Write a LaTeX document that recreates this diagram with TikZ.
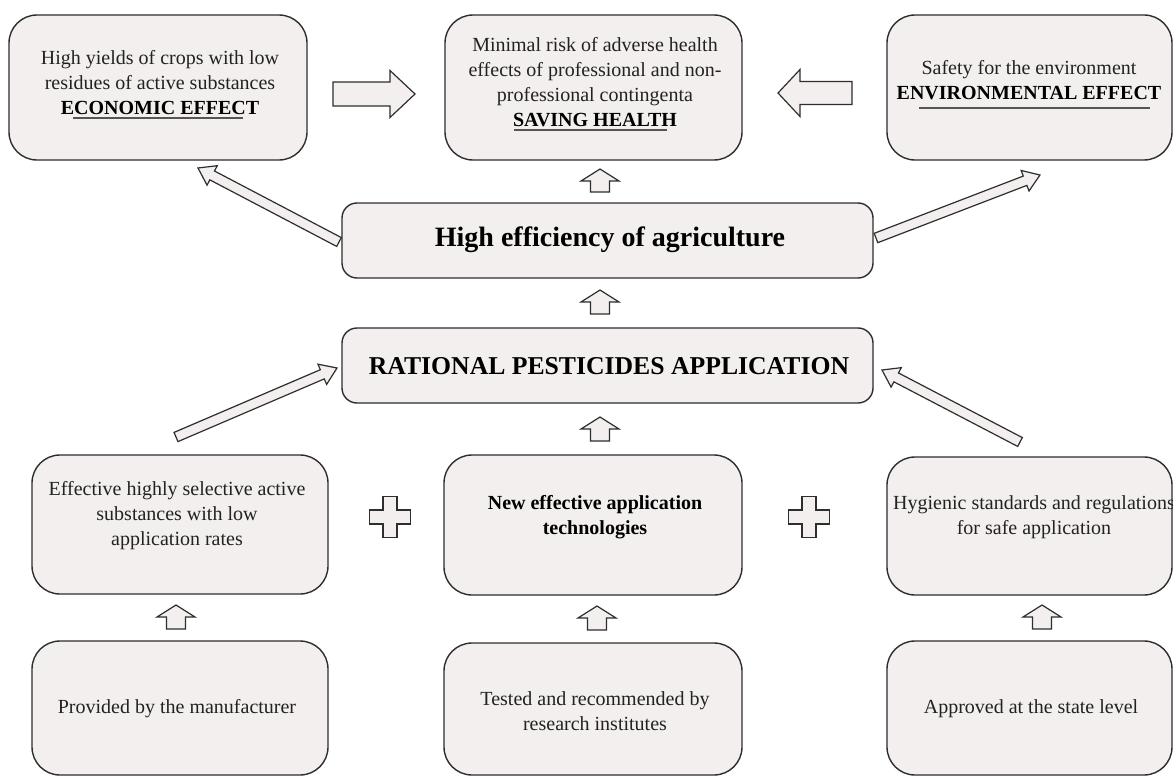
\documentclass[tikz,border=0pt]{standalone}
\usepackage{fontspec}
\setmainfont{Liberation Serif}
\usetikzlibrary{calc}
\definecolor{boxfill}{HTML}{F2EFEE}
\definecolor{boxline}{HTML}{2E2E2E}
\definecolor{txtcol}{HTML}{222222}
\definecolor{ulcol}{HTML}{555555}
\newcommand\blockarrow[5]{% #1 tail, #2 tip, #3 half shaft, #4 half head, #5 head length
  \coordinate (ba-h) at ($(#2)!#5!(#1)$);
  \draw[barrow] ($(#1)!#3!90:(#2)$) -- ($(ba-h)!#3!90:(#2)$) -- ($(ba-h)!#4!90:(#2)$) -- (#2)
    -- ($(ba-h)!#4!-90:(#2)$) -- ($(ba-h)!#3!-90:(#2)$) -- ($(#1)!#3!-90:(#2)$) -- cycle;
}
\newcommand\plussign[1]{%
  \draw[barrow, shift={(#1)}] (-7,-20.5) -- (7,-20.5) -- (7,-7) -- (20.5,-7) -- (20.5,7) -- (7,7)
    -- (7,20.5) -- (-7,20.5) -- (-7,7) -- (-20.5,7) -- (-20.5,-7) -- (-7,-7) -- cycle;
}
\tikzset{
  box/.style={draw=boxline, fill=boxfill, line width=1.4pt, inner sep=0pt},
  barrow/.style={draw=boxline, fill=boxfill, line width=1.2pt, line join=miter},
  txt/.style={text=txtcol, align=center, inner sep=0pt, font=\fontsize{20}{25}\selectfont},
  btxt/.style={text=black, align=center, inner sep=0pt, font=\fontsize{20}{25}\selectfont\bfseries},
  uline/.style={draw=ulcol, line width=1.2pt},
}
\begin{document}
\begin{tikzpicture}[x=1pt,y=-1pt]
\useasboundingbox[fill=white] (0,0) rectangle (1173,776);

% boxes
\node[box, minimum width=298pt, minimum height=145pt, rounded corners=28pt] (tl) at (158,87.5) {};
\node[box, minimum width=297pt, minimum height=145pt, rounded corners=28pt] (tm) at (593.5,87.5) {};
\node[box, minimum width=285pt, minimum height=145pt, rounded corners=28pt] (tr) at (1029.5,87.5) {};
\node[box, minimum width=531pt, minimum height=75pt, rounded corners=15pt] (he) at (607.5,240.5) {};
\node[box, minimum width=531pt, minimum height=75pt, rounded corners=15pt] (ra) at (607.5,365.5) {};
\node[box, minimum width=296pt, minimum height=139pt, rounded corners=28pt] (bl) at (180,524.5) {};
\node[box, minimum width=298pt, minimum height=140pt, rounded corners=28pt] (bm) at (593,525) {};
\node[box, minimum width=285pt, minimum height=138pt, rounded corners=28pt] (br) at (1029.5,526) {};
\node[box, minimum width=296pt, minimum height=134pt, rounded corners=28pt] (ll) at (180,708) {};
\node[box, minimum width=298pt, minimum height=132pt, rounded corners=28pt] (lm) at (593,709) {};
\node[box, minimum width=285pt, minimum height=134pt, rounded corners=28pt] (lr) at (1029.5,708) {};

% texts
\node[txt] (tl-t) at (160,82.5) {High yields of crops with low\\residues of active substances\\\textcolor{black}{\bfseries ECONOMIC EFFECT}};
\node[txt] (tm-t) at (595,82) {Minimal risk of adverse health\\effects of professional and non-\\professional contingenta\\\textcolor{black}{\bfseries SAVING HEALTH}};
\node[txt] (tr-t) at (1029,80.5) {Safety for the environment\\\textcolor{black}{\bfseries ENVIRONMENTAL EFFECT}};
\draw[uline] (73,118) -- (243,118);
\draw[uline] (514,130) -- (667,130);
\draw[uline] (919,108) -- (1150,108);

\node[btxt, font=\fontsize{28}{32}\selectfont\bfseries] (he-t) at (610,240) {High efficiency of agriculture};
\node[btxt, font=\fontsize{25.7}{30}\selectfont\bfseries] (ra-t) at (609,366) {RATIONAL PESTICIDES APPLICATION};

\node[txt] (bl-t) at (177,516) {Effective highly selective active\\substances with low\\application rates};
\node[btxt] (bm-t) at (595,517.5) {New effective application\\technologies};
\node[txt] (br-t) at (1034,517.5) {Hygienic standards and regulations\\for safe application};
\node[txt] (ll-t) at (177,709) {Provided by the manufacturer};
\node[txt] (lm-t) at (595,711) {Tested and recommended by\\research institutes};
\node[txt] (lr-t) at (1031,709) {Approved at the state level};

% big horizontal arrows
\coordinate (h1a) at (333,94);  \coordinate (h1b) at (415,94);
\coordinate (h2a) at (852,93);  \coordinate (h2b) at (778,93);
\blockarrow{h1a}{h1b}{12pt}{23.5pt}{25pt}
\blockarrow{h2a}{h2b}{11.5pt}{23.5pt}{22pt}

% small up arrows
\coordinate (a1a) at (600,192); \coordinate (a1b) at (600,169);
\coordinate (a2a) at (600,314); \coordinate (a2b) at (600,290);
\coordinate (a3a) at (600,441); \coordinate (a3b) at (600,417);
\coordinate (a4a) at (176,629); \coordinate (a4b) at (176,605);
\coordinate (a5a) at (597,630); \coordinate (a5b) at (597,606);
\coordinate (a6a) at (1042,629); \coordinate (a6b) at (1042,605);
\foreach \k in {1,...,6}{\blockarrow{a\k a}{a\k b}{9.5pt}{19pt}{12pt}}

% diagonal arrows
\coordinate (d1a) at (339,242);  \coordinate (d1b) at (198,168);
\coordinate (d2a) at (876,238);  \coordinate (d2b) at (1040,175);
\coordinate (d3a) at (176,437);  \coordinate (d3b) at (337,368);
\coordinate (d4a) at (1020,442); \coordinate (d4b) at (882,370);
\foreach \k in {1,...,4}{\blockarrow{d\k a}{d\k b}{5pt}{11pt}{16pt}}

% plus signs
\coordinate (p1) at (390,517);
\coordinate (p2) at (809,517);
\plussign{p1}
\plussign{p2}
\end{tikzpicture}
\end{document}
